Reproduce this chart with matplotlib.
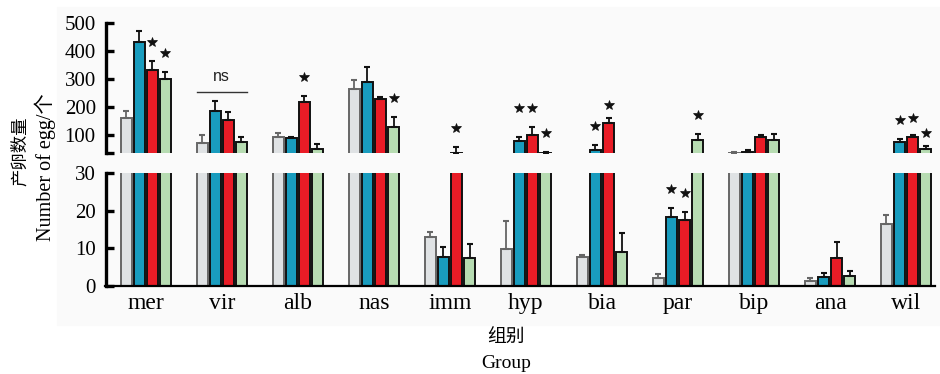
import numpy as np
import matplotlib
matplotlib.use('Agg')
import matplotlib.pyplot as plt
from matplotlib.patches import Rectangle
from matplotlib.transforms import offset_copy

groups = ['mer', 'vir', 'alb', 'nas', 'imm', 'hyp', 'bia', 'par', 'bip', 'ana', 'wil']

gray_mean = [160, 70, 92, 263, 13.0, 9.9, 7.6, 2.0, 36, 1.3, 16.5]
gray_err = [23, 28, 14, 33, 1.4, 7.4, 0.6, 1.1, 1, 0.9, 2.4]
blue_mean = [430, 183, 87, 289, 7.6, 76, 44, 18.4, 38, 2.5, 74]
blue_err = [40, 39, 5, 52, 2.9, 16, 18, 2.4, 8, 1.0, 11]
red_mean = [329, 154, 217, 228, 36, 98, 142, 17.5, 92, 7.5, 92]
red_err = [35, 27, 22, 6, 19, 28, 17, 2.3, 8, 4.2, 8]
green_mean = [300, 75, 50, 127, 7.4, 36, 9.0, 82, 82, 2.7, 49]
green_err = [22, 17, 18, 36, 3.7, 2, 5.2, 21, 21, 1.3, 12]

# (group, series index) marked with a star
signif = [('mer', 2), ('mer', 3), ('alb', 2), ('nas', 3), ('imm', 2),
          ('hyp', 1), ('hyp', 2), ('hyp', 3), ('bia', 1), ('bia', 2),
          ('par', 1), ('par', 2), ('par', 3), ('wil', 1), ('wil', 2), ('wil', 3)]
ns_group = 'vir'

means = [gray_mean, blue_mean, red_mean, green_mean]
errs = [gray_err, blue_err, red_err, green_err]
colors = ['#dfe2e4', '#199cbe', '#e91c26', '#b7dcb2']
edges = ['#666666', '#111111', '#111111', '#111111']

# extra lift for a few stars (pixels)
star_nudge = {('hyp', 1): 10, ('bia', 2): -6, ('wil', 3): -6, ('wil', 2): -2}

serif = ['Liberation Serif', 'Noto Sans CJK SC']
cjk = ['Noto Sans CJK SC', 'DejaVu Sans']

W, H = 940, 374
fig = plt.figure(figsize=(W / 100, H / 100), dpi=100)
bg = Rectangle((57 / W, 1 - 325 / H), (W - 57) / W, 318 / H,
               transform=fig.transFigure, color='#fafafa', zorder=-10)
fig.add_artist(bg)

left, right = 105.5 / W, 935 / W
ax_top = fig.add_axes([left, 1 - 153 / H, right - left, 130.5 / H])
ax_bot = fig.add_axes([left, 1 - 286 / H, right - left, 112.7 / H])

x = np.arange(len(groups))
step = 0.172
width = 0.145
offs = (np.arange(4) - 1.5) * step

top_lim = (35, 500)
bot_lim = (0, 30)

for ax in (ax_top, ax_bot):
    ax.set_facecolor('none')
    for i in range(4):
        ax.bar(x + offs[i], means[i], width, color=colors[i], edgecolor=edges[i],
               linewidth=1.4, yerr=[np.zeros(len(groups)), errs[i]],
               error_kw=dict(ecolor=edges[i], elinewidth=1.3, capsize=2.3, capthick=1.5),
               zorder=2)
    ax.set_xlim(-0.53, 10.38)
    for s in ['top', 'right']:
        ax.spines[s].set_visible(False)
    ax.spines['left'].set_linewidth(2.4)
    ax.tick_params(axis='y', direction='in', length=6, width=2.4, pad=7)

ax_top.set_ylim(*top_lim)
ax_top.set_yticks([35, 100, 200, 300, 400, 500])
ax_top.set_yticklabels(['', '100', '200', '300', '400', '500'], family=serif, fontsize=15)
ax_top.spines['bottom'].set_visible(False)
ax_top.set_xticks([])

ax_bot.set_ylim(*bot_lim)
ax_bot.set_yticks([0, 10, 20, 30])
ax_bot.set_yticklabels(['0', '10', '20', '30'], family=serif, fontsize=15)
ax_bot.spines['bottom'].set_linewidth(1.6)
ax_bot.set_xticks(x)
ax_bot.set_xticklabels(groups, family=serif, fontsize=17)
ax_bot.tick_params(axis='x', length=0, pad=5)

# significance stars
for g, s in signif:
    gi = groups.index(g)
    top = means[s][gi] + errs[s][gi]
    ax = ax_top if top > top_lim[0] else ax_bot
    trans = offset_copy(ax.transData, fig=fig, x=0, y=19 + star_nudge.get((g, s), 0), units='dots')
    ax.plot(x[gi] + offs[s], top, marker='*', color='#111111', markersize=7.5,
            markeredgewidth=0.5, transform=trans, clip_on=False, zorder=5)

# ns bracket
gi = groups.index(ns_group)
peak = max(means[s][gi] + errs[s][gi] for s in range(4))
x0 = x[gi] + offs[0] - width / 2
x1 = x[gi] + offs[3] + width / 2
line_tr = offset_copy(ax_top.transData, fig=fig, y=9, units='dots')
ax_top.plot([x0, x1], [peak, peak], color='#333333', lw=1, transform=line_tr, clip_on=False)
ax_top.annotate('ns', (x[gi], peak), xytext=(0, 17), textcoords='offset pixels',
                ha='center', va='bottom', fontsize=11.5, family='Liberation Sans', color='#222222')

fig.text(20 / W, 1 - 151 / H, '产卵数量', rotation=90, ha='center', va='center',
         fontsize=12.5, family=cjk)
fig.text(45 / W, 1 - 167 / H, 'Number of egg/个', rotation=90, ha='center', va='center',
         fontsize=14.5, family=serif)
fig.text(506 / W, 1 - 337 / H, '组别', ha='center', va='center', fontsize=13.5, family=cjk)
fig.text(506 / W, 1 - 363 / H, 'Group', ha='center', va='center', fontsize=14, family=serif)

fig.savefig('out.png', dpi=100, facecolor='white')
